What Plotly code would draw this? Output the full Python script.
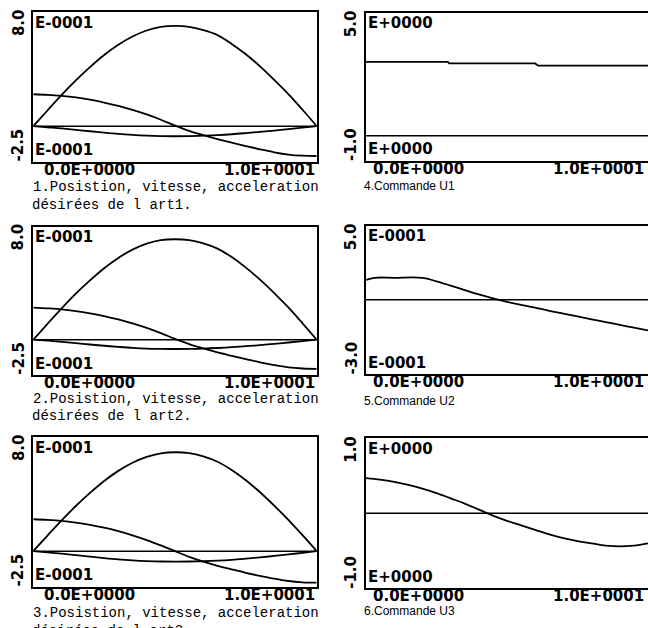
import plotly.graph_objects as go

# ---------------- data ----------------
t = [0.0, 0.5, 1.0, 1.5, 2.0, 2.5, 3.0, 3.5, 4.0, 4.5, 5.0,
     5.5, 6.0, 6.5, 7.0, 7.5, 8.0, 8.5, 9.0, 9.5, 10.0]

# articulation 1 (x 1E-4)
art1_arch = [0.0, 1.1, 2.2, 3.22, 4.15, 5.0, 5.72, 6.3, 6.72, 6.97, 7.04,
             6.98, 6.75, 6.4, 5.78, 5.05, 4.2, 3.25, 2.25, 1.15, 0.0]
art1_slope = [2.24, 2.2, 2.13, 2.02, 1.86, 1.66, 1.42, 1.14, 0.82, 0.45, 0.04,
              -0.33, -0.64, -0.92, -1.16, -1.4, -1.63, -1.84, -2.0, -2.08, -2.1]
art1_dip = [0.0, -0.08, -0.16, -0.26, -0.36, -0.46, -0.55, -0.62, -0.67, -0.7, -0.71,
            -0.7, -0.67, -0.63, -0.57, -0.49, -0.4, -0.31, -0.21, -0.1, 0.0]

# articulation 2 (x 1E-4)
art2_arch = [0.0, 1.12, 2.22, 3.26, 4.2, 5.06, 5.79, 6.38, 6.8, 7.05, 7.11,
             7.05, 6.82, 6.45, 5.85, 5.1, 4.25, 3.3, 2.28, 1.16, 0.0]
art2_slope = [2.27, 2.22, 2.15, 2.03, 1.87, 1.67, 1.43, 1.15, 0.83, 0.46, 0.06,
              -0.31, -0.62, -0.9, -1.14, -1.37, -1.6, -1.8, -1.96, -2.04, -2.07]
art2_dip = [0.0, -0.07, -0.15, -0.24, -0.34, -0.43, -0.51, -0.58, -0.63, -0.65, -0.66,
            -0.65, -0.63, -0.59, -0.53, -0.46, -0.38, -0.29, -0.2, -0.1, 0.0]

# articulation 3 (x 1E-4)
art3_arch = [0.0, 1.09, 2.16, 3.17, 4.09, 4.93, 5.64, 6.21, 6.62, 6.87, 6.95,
             6.89, 6.66, 6.28, 5.7, 4.98, 4.14, 3.2, 2.2, 1.12, 0.0]
art3_slope = [2.24, 2.2, 2.13, 2.01, 1.85, 1.65, 1.4, 1.11, 0.78, 0.4, 0.0,
              -0.4, -0.74, -1.03, -1.28, -1.52, -1.74, -1.94, -2.1, -2.19, -2.22]
art3_dip = [0.0, -0.09, -0.18, -0.28, -0.39, -0.49, -0.58, -0.65, -0.7, -0.73, -0.74,
            -0.73, -0.71, -0.67, -0.61, -0.53, -0.44, -0.34, -0.23, -0.12, 0.0]

# commande U1 (x 1E+0)
u1_t = [0.0, 2.9, 2.95, 6.0, 6.1, 10.0]
u1 = [3.0, 3.0, 2.94, 2.94, 2.85, 2.85]

# commande U2 (x 1E-4)
u2_t = [0.0, 0.3, 1.0, 2.0, 2.5, 3.0, 3.5, 4.0, 4.5, 5.0, 5.5, 6.0,
        6.5, 7.0, 7.5, 8.0, 8.5, 9.0, 9.5, 10.0]
u2 = [2.07, 2.19, 2.19, 2.19, 2.0, 1.77, 1.53, 1.29, 1.08, 0.89, 0.73, 0.58,
      0.41, 0.26, 0.11, -0.05, -0.2, -0.35, -0.5, -0.65]

# commande U3 (x 1E+0)
u3 = [0.47, 0.45, 0.42, 0.38, 0.33, 0.27, 0.2, 0.13, 0.05, -0.03, -0.1,
      -0.16, -0.22, -0.28, -0.33, -0.37, -0.4, -0.43, -0.44, -0.43, -0.4]

ref_levels = [0.0, 0.0, 0.0, 0.0, 1.0, 0.0]
y_ranges = [(-2.5, 8.0), (-2.5, 8.0), (-2.5, 8.0), (-1.0, 5.0), (-3.0, 5.0), (-1.0, 1.0)]
y_top_labels = ["8.0", "8.0", "8.0", "5.0", "5.0", "1.0"]
y_bottom_labels = ["-2.5", "-2.5", "-2.5", "-1.0", "-3.0", "-1.0"]
exp_labels = ["E-0001", "E-0001", "E-0001", "E+0000", "E-0001", "E+0000"]
x_range = (0.0, 10.0)
x_labels = ["0.0E+0000", "1.0E+0001"]
captions_left = [
    ("1.Posistion, vitesse, acceleration", "désirées de l art1."),
    ("2.Posistion, vitesse, acceleration", "désirées de l art2."),
    ("3.Posistion, vitesse, acceleration", "désirées de l art3."),
]
captions_right = ["4.Commande U1", "5.Commande U2", "6.Commande U3"]

# ---------------- layout geometry ----------------
W, H = 648, 628


def fx(px):
    return px / W


def fy(py):
    return 1 - py / H


col_px = [(33.3, 316.7), (366.0, 648.0)]
rows_px = [
    [(12.3, 161.7), (226.7, 375.0), (437.3, 586.7)],
    [(12.7, 160.5), (225.7, 374.0), (438.3, 588.3)],
]

panel_series = [
    [(t, art1_arch), (t, art1_slope), (t, art1_dip)],
    [(t, art2_arch), (t, art2_slope), (t, art2_dip)],
    [(t, art3_arch), (t, art3_slope), (t, art3_dip)],
    [(u1_t, u1)],
    [(u2_t, u2)],
    [(t, u3)],
]
panel_shapes = ["spline", "spline", "spline", "linear", "spline", "spline"]

fig = go.Figure()
annotations = []
LABEL_FONT = dict(family="DejaVu Sans", size=15, color="black", weight="bold")
CAP_FONT_L = dict(family="Liberation Mono", size=14, color="black")
CAP_FONT_R = dict(family="Liberation Sans", size=12, color="black")

for i in range(6):
    n = i + 1
    col = 0 if i < 3 else 1
    row = i % 3
    xl, xr = col_px[col]
    yt, yb = rows_px[col][row]
    sfx = "" if n == 1 else str(n)
    xa = "x" + sfx
    ya = "y" + sfx

    # reference (zero) line
    fig.add_trace(go.Scatter(x=list(x_range), y=[ref_levels[i], ref_levels[i]],
                             mode="lines", line=dict(color="black", width=1.5),
                             xaxis=xa, yaxis=ya, showlegend=False, hoverinfo="skip"))
    for xs, ys in panel_series[i]:
        fig.add_trace(go.Scatter(x=xs, y=ys, mode="lines",
                                 line=dict(color="black", width=1.8, shape=panel_shapes[i]),
                                 xaxis=xa, yaxis=ya, showlegend=False, hoverinfo="skip"))

    fig.layout["xaxis" + sfx] = dict(
        domain=[fx(xl), min(1.0, fx(xr))], range=list(x_range), anchor=ya,
        showline=True, mirror=True, linecolor="black", linewidth=1.6,
        showgrid=False, zeroline=False, showticklabels=False, ticks="",
    )
    fig.layout["yaxis" + sfx] = dict(
        domain=[fy(yb), fy(yt)], range=list(y_ranges[i]), anchor=xa,
        showline=True, mirror=(col == 0), linecolor="black", linewidth=1.6,
        showgrid=False, zeroline=False, showticklabels=False, ticks="",
    )

    xd = xa + " domain"
    yd = ya + " domain"
    annotations += [
        dict(text=y_top_labels[i], xref=xd, yref=yd, x=0, y=1, xanchor="right",
             yanchor="top", xshift=-5, yshift=4, textangle=-90, showarrow=False,
             font=LABEL_FONT, borderpad=0),
        dict(text=y_bottom_labels[i], xref=xd, yref=yd, x=0, y=0, xanchor="right",
             yanchor="bottom", xshift=-5, yshift=-1, textangle=-90, showarrow=False,
             font=LABEL_FONT, borderpad=0),
        dict(text=exp_labels[i], xref=xd, yref=yd, x=0, y=1, xanchor="left",
             yanchor="middle", xshift=1, yshift=-10.5, showarrow=False, font=LABEL_FONT,
             borderpad=0),
        dict(text=exp_labels[i], xref=xd, yref=yd, x=0, y=0, xanchor="left",
             yanchor="middle", xshift=1, yshift=11.5, showarrow=False, font=LABEL_FONT,
             borderpad=0),
        dict(text=x_labels[0], xref=xd, yref=yd, x=0, y=0, xanchor="left",
             yanchor="middle", xshift=(10 if col == 0 else 6), yshift=-8,
             showarrow=False, font=LABEL_FONT, borderpad=0),
        dict(text=x_labels[1], xref=xd, yref=yd, x=1, y=0, xanchor="right",
             yanchor="middle", xshift=(-1 if col == 0 else -3), yshift=-8,
             showarrow=False, font=LABEL_FONT, borderpad=0),
    ]

# captions
cap_left_y = [(187, 205), (399, 416), (613, 631)]
cap_right_y = [186, 401, 611]
for r in range(3):
    l1, l2 = captions_left[r]
    annotations.append(dict(text=l1, xref="paper", yref="paper", x=fx(32), y=fy(cap_left_y[r][0]),
                            xanchor="left", yanchor="middle", showarrow=False, font=CAP_FONT_L,
                            borderpad=0))
    annotations.append(dict(text=l2, xref="paper", yref="paper", x=fx(31), y=fy(cap_left_y[r][1]),
                            xanchor="left", yanchor="middle", showarrow=False, font=CAP_FONT_L,
                            borderpad=0))
    annotations.append(dict(text=captions_right[r], xref="paper", yref="paper", x=fx(363),
                            y=fy(cap_right_y[r]), xanchor="left", yanchor="middle",
                            showarrow=False, font=CAP_FONT_R, borderpad=0))

fig.update_layout(
    width=W, height=H, margin=dict(l=0, r=0, t=0, b=0),
    paper_bgcolor="white", plot_bgcolor="white",
    annotations=annotations, showlegend=False,
)

fig.write_html("out.html")
